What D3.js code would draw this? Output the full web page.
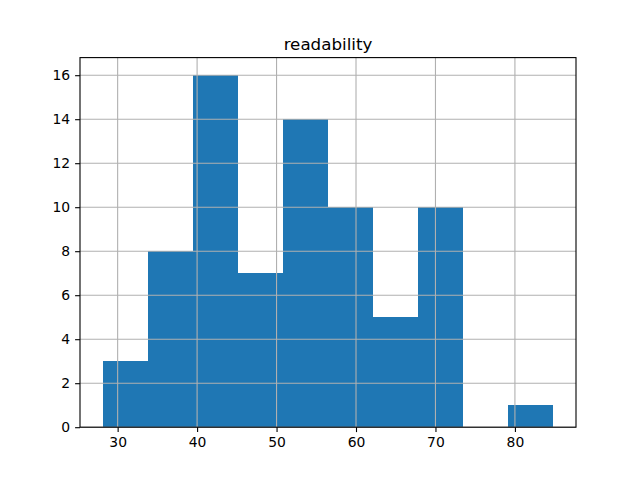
<!DOCTYPE html>
<html>
<head>
<meta charset="utf-8">
<script src="https://cdn.jsdelivr.net/npm/d3@7"></script>
<style>
body { margin: 0; background: #fff; }
text { font-family: "DejaVu Sans", sans-serif; fill: #000; }
</style>
</head>
<body>
<svg id="chart" width="640" height="480"></svg>
<script>
// histogram of "readability", 10 bins
var binStart = 28.1;
var binEnd = 84.85;
var counts = [3, 8, 16, 7, 14, 10, 5, 10, 0, 1];
var xTicks = [30, 40, 50, 60, 70, 80];
var yTicks = [0, 2, 4, 6, 8, 10, 12, 14, 16];
var title = 'readability';

var margin = { left: 80, right: 64, top: 57.6, bottom: 52.8 };
var width = 640 - margin.left - margin.right;
var height = 480 - margin.top - margin.bottom;

var binWidth = (binEnd - binStart) / counts.length;
var bins = counts.map(function(c, i) {
    return { x0: binStart + i * binWidth, x1: binStart + (i + 1) * binWidth, count: c };
});

var pad = (binEnd - binStart) * 0.05;
var xScale = d3.scaleLinear().domain([binStart - pad, binEnd + pad]).range([0, width]);
var yScale = d3.scaleLinear().domain([0, d3.max(counts) * 1.05]).range([height, 0]);

var svg = d3.select('#chart');
var g = svg.append('g')
    .attr('transform', 'translate(' + margin.left + ',' + margin.top + ')');

// Bars
g.append('g').selectAll('rect')
    .data(bins)
    .join('rect')
    .attr('x', function(d) { return xScale(d.x0); })
    .attr('width', function(d) { return xScale(d.x1) - xScale(d.x0); })
    .attr('y', function(d) { return yScale(d.count); })
    .attr('height', function(d) { return height - yScale(d.count); })
    .attr('shape-rendering', 'crispEdges')
    .style('fill', '#1f77b4');

// Grid (drawn above bars, as matplotlib does)
var grid = g.append('g').attr('class', 'grid');
grid.selectAll('line.gx')
    .data(xTicks)
    .join('line')
    .attr('class', 'gx')
    .attr('x1', function(d) { return xScale(d); })
    .attr('x2', function(d) { return xScale(d); })
    .attr('y1', 0)
    .attr('y2', height);
grid.selectAll('line.gy')
    .data(yTicks)
    .join('line')
    .attr('class', 'gy')
    .attr('x1', 0)
    .attr('x2', width)
    .attr('y1', function(d) { return yScale(d); })
    .attr('y2', function(d) { return yScale(d); });
grid.selectAll('line')
    .style('stroke', '#b0b0b0')
    .style('stroke-width', 1.1);

// Axes
var xAxis = d3.axisBottom(xScale).tickValues(xTicks).tickSize(4.9).tickPadding(4.9).tickSizeOuter(0);
var yAxis = d3.axisLeft(yScale).tickValues(yTicks).tickSize(4.9).tickPadding(4.9).tickSizeOuter(0);

var gx = g.append('g')
    .attr('transform', 'translate(0,' + height + ')')
    .call(xAxis);
var gy = g.append('g').call(yAxis);

[gx, gy].forEach(function(a) {
    a.select('.domain').remove();
    a.selectAll('line').style('stroke', '#000').style('stroke-width', 1.1);
    a.selectAll('text').style('font-size', '13.9px').style('font-family', '"DejaVu Sans", sans-serif');
});

// Spines
g.append('rect')
    .attr('width', width)
    .attr('height', height)
    .style('fill', 'none')
    .style('stroke', '#000')
    .style('stroke-width', 1.1);

// Title
g.append('text')
    .attr('x', width / 2)
    .attr('y', -8)
    .style('text-anchor', 'middle')
    .style('font-size', '16.7px')
    .text(title);
</script>
</body>
</html>
